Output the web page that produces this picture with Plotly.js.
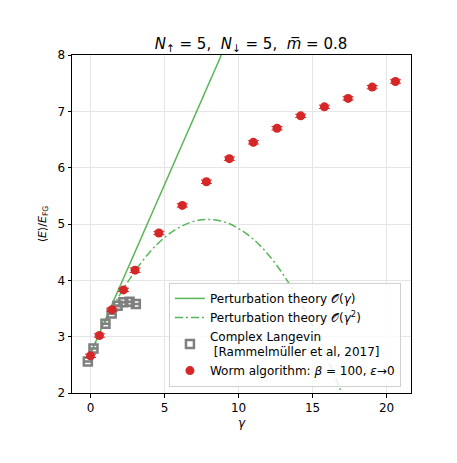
<!DOCTYPE html>
<html>
<head>
<meta charset="utf-8">
<script src="https://cdn.plot.ly/plotly-3.0.1.min.js"></script>
<style>html,body{margin:0;padding:0;background:#fff;}#plot{width:457px;height:463px;}</style>
</head>
<body>
<div id="plot"></div>
<script>
// Perturbation theory O(gamma): straight line
var ptLinGamma = [0, 8.84];
var ptLinE = [2.70, 8.0];

// Perturbation theory O(gamma^2)
var ptQuadGamma = [0, 1, 2, 3, 4, 5, 6, 7, 8, 9, 10, 11, 12, 13, 14, 15, 16, 17];
var ptQuadE = [2.70, 3.26, 3.75, 4.16, 4.50, 4.76, 4.94, 5.05, 5.08, 5.04, 4.92, 4.73, 4.46, 4.11, 3.69, 3.20, 2.62, 1.98];

// Complex Langevin [Rammelmüller et al, 2017]
var clGamma = [-0.18, 0.20, 1.01, 1.43, 1.83, 2.22, 2.64, 3.06];
var clE = [2.56, 2.79, 3.23, 3.41, 3.55, 3.61, 3.62, 3.58];
var clErr = [0.01, 0.01, 0.01, 0.01, 0.01, 0.01, 0.01, 0.01];

// Worm algorithm: beta = 100, eps -> 0
var wormGamma = [0.0, 0.6, 1.45, 2.23, 3.01, 4.62, 6.2, 7.83, 9.38, 11.0, 12.6, 14.2, 15.8, 17.4, 19.03, 20.6];
var wormE = [2.66, 3.02, 3.48, 3.83, 4.18, 4.84, 5.33, 5.75, 6.16, 6.45, 6.70, 6.92, 7.08, 7.23, 7.43, 7.53];
var wormErr = [0.03, 0.03, 0.03, 0.03, 0.04, 0.03, 0.03, 0.03, 0.03, 0.03, 0.03, 0.03, 0.03, 0.03, 0.03, 0.03];

var green = '#57b557';
var red = '#d62728';
var grey = '#7f7f7f';
var font = 'DejaVu Sans, sans-serif';

var traces = [
  {x: ptLinGamma, y: ptLinE, mode: 'lines', name: 'Perturbation theory 𝒪(<i>γ</i>)',
   line: {color: green, width: 1.5}},
  {x: ptQuadGamma, y: ptQuadE, mode: 'lines', name: 'Perturbation theory 𝒪(<i>γ</i><sup>2</sup>)',
   line: {color: green, width: 1.5, dash: '8px,3px,2px,3px', shape: 'spline'}},
  {x: clGamma, y: clE, mode: 'markers', name: 'Complex Langevin<br> [Rammelmüller et al, 2017]',
   marker: {symbol: 'square-open', size: 8, color: grey, line: {width: 2.5, color: grey}},
   error_y: {type: 'data', array: clErr, visible: true, color: grey, thickness: 1.5, width: 4}},
  {x: wormGamma, y: wormE, mode: 'markers', name: 'Worm algorithm: <i>β</i> = 100, <i>ε</i>→0',
   marker: {symbol: 'circle', size: 9, color: red},
   error_y: {type: 'data', array: wormErr, visible: true, color: red, thickness: 1, width: 5.5}}
];

var layout = {
  width: 457, height: 463,
  margin: {l: 72, r: 46, t: 55, b: 70, pad: 0},
  paper_bgcolor: '#fff', plot_bgcolor: '#fff',
  font: {family: font, size: 12, color: '#000'},
  showlegend: true,
  title: {text: '<i>N</i><sub>↑</sub> = 5,  <i>N</i><sub>↓</sub> = 5,  <i>m̅</i> = 0.8',
          font: {family: font, size: 15, color: '#000'},
          x: 0.528, xanchor: 'center', xref: 'paper', y: 0.905, yanchor: 'middle', yref: 'container'},
  xaxis: {
    range: [-1.25, 21.65], tickvals: [0, 5, 10, 15, 20], ticktext: ['0', '5', '10', '15', '20'],
    showgrid: true, gridcolor: '#e5e5e5', gridwidth: 1, zeroline: false,
    showline: true, linecolor: '#000', linewidth: 1, mirror: true,
    ticks: 'outside', ticklen: 3.5, tickcolor: '#000', tickfont: {size: 12},
    title: {text: '<i>γ</i>', font: {size: 12}, standoff: 4}
  },
  yaxis: {
    range: [2, 8], tickvals: [2, 3, 4, 5, 6, 7, 8], ticktext: ['2', '3', '4', '5', '6', '7', '8'],
    showgrid: true, gridcolor: '#e5e5e5', gridwidth: 1, zeroline: false,
    showline: true, linecolor: '#000', linewidth: 1, mirror: true,
    ticks: 'outside', ticklen: 3.5, tickcolor: '#000', tickfont: {size: 12},
    title: {text: '⟨<i>E</i>⟩/<i>E</i><sub>FG</sub>', font: {size: 11}, standoff: 8}
  },
  legend: {
    x: 0.286, y: 0.018, xanchor: 'left', yanchor: 'bottom',
    bgcolor: 'rgba(255,255,255,0.85)', bordercolor: '#d0d0d0', borderwidth: 1,
    font: {family: font, size: 12, color: '#000'},
    itemwidth: 30, tracegroupgap: 0
  }
};

Plotly.newPlot('plot', traces, layout, {displayModeBar: false, staticPlot: true});
</script>
</body>
</html>
